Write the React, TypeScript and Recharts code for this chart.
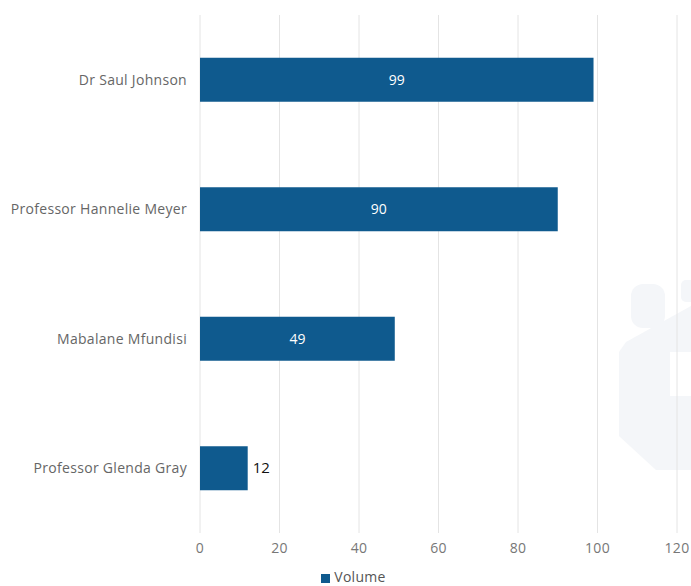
import React from 'react';
import { BarChart, Bar, XAxis, YAxis, CartesianGrid, Legend, LabelList } from 'recharts';

const names = ['Dr Saul Johnson', 'Professor Hannelie Meyer ', 'Mabalane Mfundisi', 'Professor Glenda Gray'];
const volumes = [99, 90, 49, 12];
const xTicks = [0, 20, 40, 60, 80, 100, 120];

const data = names.map((name, i) => ({ name, volume: volumes[i] }));

const BAR_COLOR = '#0f5a8e';
const FONT = '"Open Sans", sans-serif';

// white label inside wide bars, dark label to the right of short ones
const ValueLabel = (props: any) => {
  const { x, y, width, height, value } = props;
  const inside = width > 60;
  return (
    <text
      x={inside ? x + width / 2 : x + width + 5}
      y={y + height / 2}
      dy={5}
      textAnchor={inside ? 'middle' : 'start'}
      fill={inside ? '#ffffff' : '#111111'}
      fontSize={inside ? 14 : 15}
      fontFamily={FONT}
    >
      {value}
    </text>
  );
};

export default function App() {
  return (
    <div style={{ position: 'absolute', left: 0, top: 0, width: 691, height: 586, background: '#fff' }}>
      {/* faint watermark logo behind the chart */}
      <svg width={691} height={586} style={{ position: 'absolute', left: 0, top: 0 }}>
        <g fill="#f4f6f9">
          <rect x={631} y={284} width={34} height={44} rx={12} />
          <rect x={681} y={280} width={14} height={22} rx={5} />
          <path d="M626 342 L691 306 L691 470 L656 470 L619 436 L619 352 Z" />
        </g>
        <rect x={670} y={352} width={21} height={44} fill="#ffffff" />
      </svg>
      <div style={{ position: 'absolute', left: 0, top: 0 }}>
        <BarChart
          width={691}
          height={586}
          data={data}
          layout="vertical"
          margin={{ top: 15, right: 14, bottom: 0, left: 0 }}
          barCategoryGap="33%"
        >
          <CartesianGrid horizontal={false} stroke="#e4e4e4" />
          <XAxis
            type="number"
            domain={[0, 120]}
            ticks={xTicks}
            axisLine={false}
            tickLine={false}
            tickMargin={4}
            height={34}
            tick={{ fill: '#777', fontSize: 14, fontFamily: FONT, letterSpacing: 0.3 }}
          />
          <YAxis
            type="category"
            dataKey="name"
            width={200}
            axisLine={false}
            tickLine={false}
            tickSize={0}
            tickMargin={13}
            tick={{ fill: '#666', fontSize: 14, fontFamily: FONT, letterSpacing: 0.3 }}
          />
          <Legend
            verticalAlign="bottom"
            align="center"
            iconType="square"
            iconSize={9}
            formatter={(v: string) => (
              <span style={{ color: '#555', fontSize: 14, fontFamily: FONT, letterSpacing: 0.3 }}>{v}</span>
            )}
            wrapperStyle={{ left: 20 }}
          />
          <Bar dataKey="volume" name="Volume" fill={BAR_COLOR} isAnimationActive={false}>
            <LabelList dataKey="volume" content={ValueLabel} />
          </Bar>
        </BarChart>
      </div>
    </div>
  );
}
